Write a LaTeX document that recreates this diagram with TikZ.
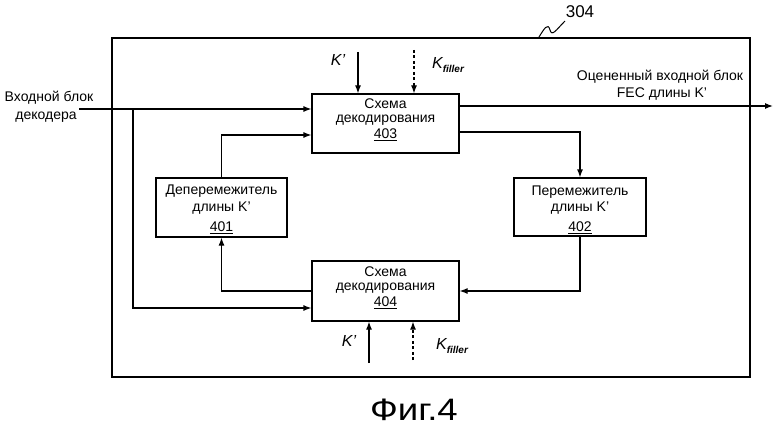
\documentclass[tikz,border=0pt]{standalone}
\usepackage{fontspec}
\setmainfont{Liberation Sans}
\usetikzlibrary{arrows.meta,calc}
\begin{document}
\begin{tikzpicture}[x=1pt,y=-1pt,
  line width=1.2pt,
  box/.style={draw,rectangle,inner sep=0pt},
  arr/.style={-{Latex[length=8pt,width=6pt]}},
  dotarr/.style={arr,dash pattern=on 3pt off 2.5pt},
  txt/.style={inner sep=0pt,font=\fontsize{14}{16}\selectfont},
  klab/.style={inner sep=0pt,font=\fontsize{16}{18}\selectfont\itshape}
]
\useasboundingbox (0,0) rectangle (780,428);
% outer block
\node[box,minimum width=638pt,minimum height=339pt] (outer) at (431,207.5) {};
% boxes
\node[box,minimum width=147pt,minimum height=59pt] (d403) at (385.5,123.5) {};
\node[box,minimum width=147pt,minimum height=60pt] (d404) at (385.5,291) {};
\node[box,minimum width=131pt,minimum height=59pt] (i401) at (221.5,207.5) {};
\node[box,minimum width=132pt,minimum height=58pt] (p402) at (580,207) {};
% box texts
\node[txt] (t403a) at (385.5,104) {Схема};
\node[txt] (t403b) at (385.5,120) {декодирования};
\node[txt] (t403c) at (385.5,135) {\underline{403}};
\node[txt] (t404a) at (385.5,272) {Схема};
\node[txt] (t404b) at (385.5,288) {декодирования};
\node[txt] (t404c) at (385.5,303) {\underline{404}};
\node[txt] (t401a) at (221.5,191) {Деперемежитель};
\node[txt] (t401b) at (221.5,208) {длины K'};
\node[txt] (t401c) at (221.5,228) {\underline{401}};
\node[txt] (t402a) at (580,192) {Перемежитель};
\node[txt] (t402b) at (580,208) {длины K'};
\node[txt] (t402c) at (580,228) {\underline{402}};
% outer labels
\node[txt] (inA) at (49,98) {Входной блок};
\node[txt] (inB) at (46,117) {декодера};
\node[txt] (outA) at (660,77) {Оцененный входной блок};
\node[txt] (outB) at (662,94) {FEC длины K'};
\node[inner sep=0pt,font=\fontsize{17}{19}\selectfont] (n304) at (580,12) {304};
\node[inner sep=0pt,font=\fontsize{31}{33}\selectfont] (fig) at (414,410) {\scalebox{1.18}[1]{Фиг.4}};
% K labels
\node[klab] (kl1) at (338,60) {K’};
\node[klab] (kl2) at (448,65) {K\raisebox{-0.45ex}{\fontsize{10}{11}\selectfont\bfseries filler}};
\node[klab] (kl3) at (349,341) {K’};
\node[klab] (kl4) at (452,346) {K\raisebox{-0.45ex}{\fontsize{10}{11}\selectfont\bfseries filler}};
% squiggle for 304
\coordinate (sq1) at (539,37);
\coordinate (sq2) at (565,21);
\draw[line width=1pt] (sq1) .. controls (544,29) and (548,22) .. (550,30)
  .. controls (552,37) and (556,30) .. (sq2);
% coordinates
\coordinate (in) at (79,109);
\coordinate (sp) at (133,109);
\coordinate (out) at (773,106);
\coordinate (k1) at (358,52);
\coordinate (k2) at (414,50);
\coordinate (k3) at (369,363);
\coordinate (k4) at (413,360);
% connectors
\draw[arr] (in) -- (in -| d403.west);
\draw[arr] (sp) |- ([yshift=-17pt]d404.west);
\draw[arr] (i401.north) |- ([yshift=-11.5pt]d403.west);
\draw[arr] ([yshift=-8.5pt]d403.east) -| (p402.north);
\draw[arr] (p402.south) |- (d404.east);
\draw[arr] (d404.west) -| (i401.south);
\draw[arr] (d403.east |- out) -- (out);
\draw[arr] (k1) -- (k1 |- d403.north);
\draw[dotarr] (k2) -- (k2 |- d403.north);
\draw[arr] (k3) -- (k3 |- d404.south);
\draw[dotarr] (k4) -- (k4 |- d404.south);
\end{tikzpicture}
\end{document}
